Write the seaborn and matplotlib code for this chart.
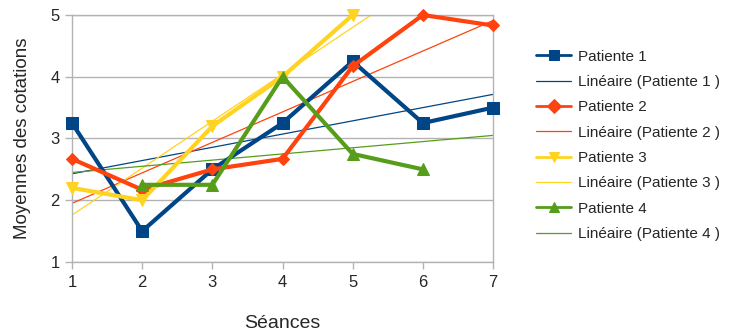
import numpy as np
import pandas as pd
import seaborn as sns
import matplotlib.pyplot as plt

# values
seances = [1, 2, 3, 4, 5, 6, 7]
patiente_1 = [3.25, 1.5, 2.5, 3.25, 4.25, 3.25, 3.5]
patiente_2 = [2.67, 2.17, 2.5, 2.67, 4.17, 5.0, 4.83]
patiente_3 = [2.2, 2.0, 3.2, 4.0, 5.0, np.nan, np.nan]
patiente_4 = [np.nan, 2.25, 2.25, 4.0, 2.75, 2.5, np.nan]

noms = ["Patiente 1", "Patiente 2", "Patiente 3", "Patiente 4"]
couleurs = ["#004586", "#ff420e", "#ffd320", "#579d1c"]
marqueurs = ["s", "D", "v", "^"]
tailles = [9, 6, 9, 9]

df = pd.DataFrame({"Séances": seances, "Patiente 1": patiente_1,
                   "Patiente 2": patiente_2, "Patiente 3": patiente_3,
                   "Patiente 4": patiente_4})

sns.set_style("white")
plt.rcParams["font.family"] = ["Liberation Sans", "DejaVu Sans"]

fig = plt.figure(figsize=(7.32, 3.33), dpi=100)
ax = fig.add_axes([0.0984, 0.2132, 0.5751, 0.7418])

for nom, c, m, t in zip(noms, couleurs, marqueurs, tailles):
    d = df[["Séances", nom]].dropna()
    sns.lineplot(x=d["Séances"], y=d[nom], ax=ax, color=c, marker=m,
                 markersize=t, markeredgecolor=c, linewidth=3, label=nom,
                 zorder=3, clip_on=False)
    # linear trend line over the whole x range
    a, b = np.polyfit(d["Séances"], d[nom], 1)
    xs = np.array([1, 7])
    sns.lineplot(x=xs, y=a * xs + b, ax=ax, color=c, linewidth=0.9,
                 label="Linéaire (" + nom + " )", zorder=2)

ax.set_xlim(1, 7)
ax.set_ylim(1, 5)
ax.set_xticks(seances)
ax.set_yticks([1, 2, 3, 4, 5])
ax.yaxis.grid(True, color="#b3b3b3", linewidth=1)
for s in ax.spines.values():
    s.set_color("#b3b3b3")
    s.set_linewidth(1)
ax.tick_params(axis="both", direction="out", length=5, width=1,
               color="#b3b3b3", labelsize=12, pad=4, bottom=True, left=True)
ax.set_xlabel("Séances", fontsize=14, labelpad=18)
ax.set_ylabel("Moyennes des cotations", fontsize=13.5, labelpad=14)

leg = ax.legend(loc="upper left", bbox_to_anchor=(1.07, 0.915), frameon=False,
                fontsize=11, handlelength=2.3, labelspacing=0.74,
                handletextpad=0.45)
for h in leg.legend_handles:
    if h.get_marker() not in (None, "None", ""):
        h.set_markersize(7)
        h.set_linewidth(2)

fig.savefig("out.png", dpi=100)
